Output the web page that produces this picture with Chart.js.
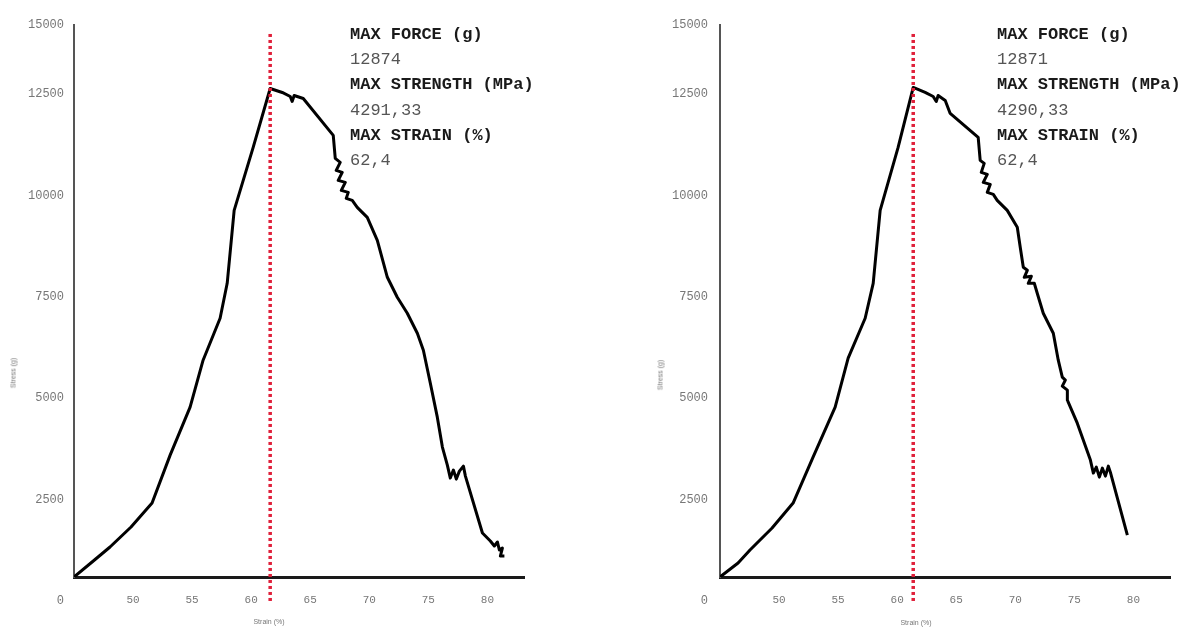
<!DOCTYPE html>
<html>
<head>
<meta charset="utf-8">
<script src="https://cdn.jsdelivr.net/npm/chart.js@4.4.1/dist/chart.umd.min.js"></script>
<style>
html, body { margin: 0; padding: 0; background: #fff; width: 1198px; height: 633px; overflow: hidden; position: relative; }
canvas { position: absolute; top: 0; }
#plot1 { left: 0; }
#plot2 { left: 646px; }
.stats { position: absolute; top: 22px; font-family: "Liberation Mono", monospace; font-size: 17px; line-height: 25.2px; color: #555; white-space: pre; }
.stats b { color: #1a1a1a; }
.axis-title { position: absolute; font-family: "Liberation Sans", sans-serif; font-size: 7px; color: #777; white-space: nowrap; transform: translate(-50%, -50%); }
.axis-title.y { transform: translate(-50%, -50%) rotate(-90deg); }
</style>
</head>
<body>
<canvas id="plot1" width="560" height="633"></canvas>
<canvas id="plot2" width="552" height="633"></canvas>
<div class="stats" id="stats1" style="left:350px"></div>
<div class="stats" id="stats2" style="left:997px"></div>
<div class="axis-title" style="left:269px; top:621px">Strain (%)</div>
<div class="axis-title y" style="left:13px; top:373px">Stress (g)</div>
<div class="axis-title" style="left:916px; top:622px">Strain (%)</div>
<div class="axis-title y" style="left:660px; top:375px">Stress (g)</div>
<script>
// sample 1
const strain1 = [45.00, 46.53, 48.05, 49.83, 51.61, 53.14, 54.83, 55.93, 57.37, 57.97, 58.56, 60.17, 61.61,
  62.63, 63.31, 63.47, 63.64, 64.41, 66.95, 67.12, 67.54, 67.20, 67.71, 67.37, 67.97, 67.63, 68.22, 68.05, 68.56,
  68.98, 69.83, 70.68, 71.53, 72.37, 73.22, 74.07, 74.58, 75.17, 75.76, 76.19, 76.61, 76.86, 77.12, 77.37, 77.63,
  77.97, 78.14, 79.58, 80.25, 80.59, 80.85, 81.02, 81.27, 81.10, 81.44];
const stress1 = [591, 961, 1330, 1823, 2414, 3596, 4778, 5936, 6970, 7832, 9630, 11182, 12635,
  12537, 12438, 12315, 12463, 12389, 11478, 10911, 10813, 10616, 10567, 10370, 10320, 10123, 10074, 9926, 9876,
  9704, 9458, 8892, 7980, 7488, 7094, 6601, 6182, 5369, 4532, 3793, 3350, 3030, 3227, 3005, 3202,
  3325, 3079, 1675, 1478, 1355, 1453, 1256, 1305, 1108, 1108];

// sample 2
const strain2 = [45.00, 46.53, 47.54, 49.41, 51.19, 52.88, 54.75, 55.85, 57.29, 57.97, 58.56, 60.08, 61.36,
  62.37, 63.05, 63.31, 63.47, 64.07, 64.49, 66.86, 67.03, 67.37, 67.12, 67.63, 67.29, 67.88, 67.63, 68.14, 68.47,
  69.32, 70.17, 70.42, 70.68, 71.02, 70.76, 71.36, 71.10, 71.61, 71.86, 72.37, 73.22, 73.64, 73.98, 74.24, 73.98,
  74.41, 74.41, 75.25, 76.36, 76.61, 76.86, 77.12, 77.37, 77.63, 77.88, 78.05, 79.49];
const stress2 = [591, 936, 1256, 1798, 2414, 3547, 4778, 5985, 6970, 7832, 9630, 11182, 12660,
  12537, 12438, 12315, 12463, 12340, 12019, 11428, 10862, 10788, 10567, 10517, 10320, 10271, 10074, 10025, 9876,
  9630, 9212, 8719, 8227, 8152, 7980, 8005, 7832, 7832, 7586, 7094, 6601, 5936, 5517, 5444, 5296,
  5197, 4951, 4384, 3473, 3153, 3300, 3054, 3276, 3079, 3325, 3177, 1626];

const stats1 = [['MAX FORCE (g)', '12874'], ['MAX STRENGTH (MPa)', '4291,33'], ['MAX STRAIN (%)', '62,4']];
const stats2 = [['MAX FORCE (g)', '12871'], ['MAX STRENGTH (MPa)', '4290,33'], ['MAX STRAIN (%)', '62,4']];

const xTicks = [50, 55, 60, 65, 70, 75, 80];
const yTicks = [0, 2500, 5000, 7500, 10000, 12500];
const yTopLabel = '15000';
const xMin = 45, xMax = 83.1;
const yMin = 591, yMax = 14200;
const markerTop = 14050;

function fillStats(id, rows) {
  document.getElementById(id).innerHTML = rows.map(r => '<b>' + r[0] + '</b>\n' + r[1]).join('\n');
}
fillStats('stats1', stats1);
fillStats('stats2', stats2);

function buildChart(id, strain, stress, padRight, yPad) {
  const ctx = document.getElementById(id)?.getContext('2d');
  if (!ctx) return;
  let peak = 0;
  stress.forEach((v, i) => { if (v > stress[peak]) peak = i; });
  const xPeak = strain[peak];

  new Chart(ctx, {
    type: 'scatter',
    data: {
      datasets: [{
        data: strain.map((x, i) => ({ x: x, y: stress[i] })),
        showLine: true,
        borderColor: '#000',
        borderWidth: 3,
        borderJoinStyle: 'round',
        pointRadius: 0,
        tension: 0,
        order: 1
      }, {
        data: [{ x: xPeak, y: 0 }, { x: xPeak, y: markerTop }],
        showLine: true,
        borderColor: '#e0203a',
        borderWidth: 3.5,
        borderDash: [3, 3],
        pointRadius: 0,
        clip: false,
        order: 0
      }]
    },
    options: {
      responsive: false,
      animation: false,
      layout: { padding: { top: 25, right: padRight, left: 0, bottom: 0 } },
      plugins: { legend: { display: false }, tooltip: { enabled: false } },
      scales: {
        x: {
          type: 'linear',
          min: xMin,
          max: xMax,
          grid: { display: false, drawTicks: false },
          border: { color: '#1a1a1a', width: 3 },
          afterBuildTicks: s => { s.ticks = xTicks.map(v => ({ value: v })); },
          afterFit: s => { s.height = 56; },
          ticks: { padding: 16, color: '#777', autoSkip: false, maxRotation: 0, font: { family: 'Liberation Mono', size: 11 } }
        },
        y: {
          type: 'linear',
          min: yMin,
          max: yMax,
          grid: { display: false, drawTicks: false },
          border: { color: '#555', width: 2 },
          afterBuildTicks: s => { s.ticks = yTicks.map(v => ({ value: v })).concat([{ value: yMax }]); },
          afterFit: s => { s.width = 74; },
          ticks: {
            padding: yPad,
            color: '#777',
            autoSkip: false,
            font: { family: 'Liberation Mono', size: 12 },
            callback: v => v === yMax ? yTopLabel : String(v)
          }
        }
      }
    }
  });
}

window.addEventListener('DOMContentLoaded', () => {
  buildChart('plot1', strain1, stress1, 36, 10);
  buildChart('plot2', strain2, stress2, 28, 12);
});
</script>
</body>
</html>
